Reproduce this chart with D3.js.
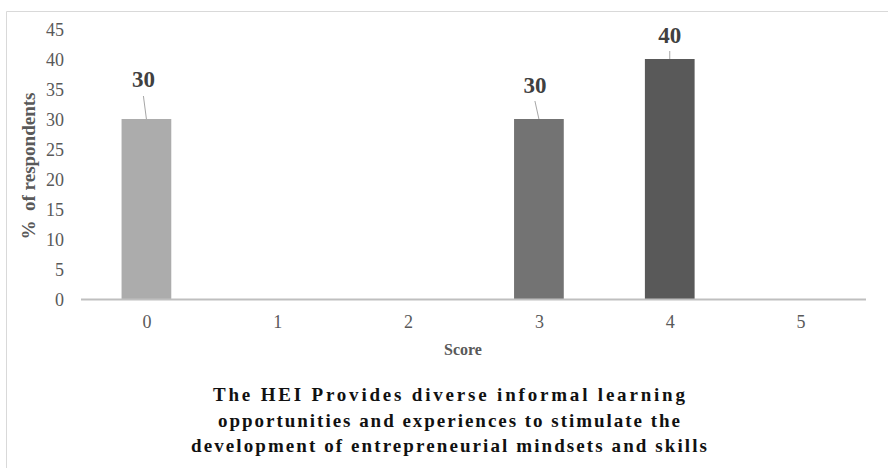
<!DOCTYPE html>
<html>
<head>
<meta charset="utf-8">
<script src="https://cdn.jsdelivr.net/npm/d3@7/dist/d3.min.js"></script>
<style>
  html, body { margin: 0; padding: 0; background: #fff; }
  svg { display: block; }
</style>
</head>
<body>
<svg id="chart" width="888" height="468"></svg>
<script>
// Share of respondents per score
const scores = ["0", "1", "2", "3", "4", "5"];
const percents = [30, 0, 0, 30, 40, 0];
const barColors = ["#acacac", "#acacac", "#acacac", "#737373", "#595959", "#595959"];
const yTicks = [0, 5, 10, 15, 20, 25, 30, 35, 40, 45];
const titleLines = [
  "The HEI Provides diverse informal learning",
  "opportunities and experiences to stimulate the",
  "development of entrepreneurial mindsets and skills"
];
const titleWidths = [472, 462, 516];

const SERIF = "'Liberation Serif', 'Times New Roman', serif";
const svg = d3.select("#chart");
const W = 888, H = 468;
const margin = { left: 81, right: 22 };

// chart frame (top and left edges only)
svg.append("path")
  .attr("d", `M6.5,${H} V11.5 H${W}`)
  .attr("fill", "none")
  .attr("stroke", "#d9d9d9")
  .attr("stroke-width", 1);

const x = d3.scaleBand()
  .domain(scores)
  .range([margin.left, W - margin.right])
  .paddingInner(0.62)
  .paddingOuter(0.31);

const y = d3.scaleLinear()
  .domain([0, 45])
  .range([299, 29]);

// y-axis tick labels
const yAxis = d3.axisLeft(y).tickValues(yTicks).tickSize(0).tickPadding(0);
const yg = svg.append("g").attr("transform", "translate(64,0)").call(yAxis);
yg.attr("font-family", null).attr("font-size", null);
yg.select(".domain").remove();
yg.selectAll("text")
  .attr("dy", "0.34em")
  .style("font-family", SERIF)
  .style("font-size", "18px")
  .attr("fill", "#595959");

// bars
svg.append("g").selectAll("rect")
  .data(scores.map((s, i) => ({ s, v: percents[i], c: barColors[i] })).filter(d => d.v > 0))
  .join("rect")
  .attr("x", d => x(d.s))
  .attr("width", x.bandwidth())
  .attr("y", d => y(d.v))
  .attr("height", d => y(0) - y(d.v))
  .attr("fill", d => d.c);

// category labels along the baseline
const xAxis = d3.axisBottom(d3.scalePoint().domain(scores).range([x("0") + x.bandwidth() / 2, x("5") + x.bandwidth() / 2]))
  .tickSize(0).tickPadding(16);
const xg = svg.append("g").attr("transform", `translate(0,${y(0)})`).call(xAxis);
xg.attr("font-family", null).attr("font-size", null);
xg.select(".domain").remove();
xg.selectAll("text")
  .style("font-family", SERIF)
  .style("font-size", "18px")
  .attr("fill", "#595959");
svg.append("line")
  .attr("x1", margin.left).attr("x2", W - margin.right)
  .attr("y1", y(0) + 0.5).attr("y2", y(0) + 0.5)
  .attr("stroke", "#bfbfbf").attr("stroke-width", 2);

// value labels with leader lines: [text x shift, text baseline offset, leader top offset]
const labelOffsets = { "0": [-3, -32, -23], "3": [-4, -26, -18], "4": [0, -16, -8] };
const labelled = scores.map((s, i) => ({ s, v: percents[i] })).filter(d => d.v > 0);
const lg = svg.append("g");
labelled.forEach(d => {
  const cx = x(d.s) + x.bandwidth() / 2;
  const top = y(d.v);
  const [dx, ty, ly] = labelOffsets[d.s];
  lg.append("line")
    .attr("x1", cx).attr("y1", top)
    .attr("x2", cx + dx).attr("y2", top + ly)
    .attr("stroke", "#a6a6a6").attr("stroke-width", 1);
  lg.append("text")
    .attr("x", cx + dx)
    .attr("y", top + ty)
    .attr("text-anchor", "middle")
    .style("font-family", SERIF)
    .style("font-weight", "bold")
    .style("font-size", "23px")
    .attr("fill", "#404040")
    .text(d.v);
});

// axis titles
svg.append("text")
  .attr("transform", "translate(35,166) rotate(-90)")
  .attr("text-anchor", "middle")
  .style("font-family", SERIF)
  .style("font-weight", "bold")
  .style("font-size", "19px")
  .style("white-space", "pre")
  .attr("fill", "#595959")
  .text("%  of respondents");

svg.append("text")
  .attr("x", 463)
  .attr("y", 355)
  .attr("text-anchor", "middle")
  .style("font-family", SERIF)
  .style("font-weight", "bold")
  .style("font-size", "16px")
  .attr("fill", "#595959")
  .text("Score");

// chart title
svg.append("g").selectAll("text")
  .data(titleLines)
  .join("text")
  .attr("x", 449)
  .attr("y", (d, i) => 401 + i * 25.5)
  .attr("text-anchor", "middle")
  .style("font-family", SERIF)
  .style("font-weight", "bold")
  .style("font-size", "19px")
  .attr("fill", "#111")
  .attr("textLength", (d, i) => titleWidths[i])
  .attr("lengthAdjust", "spacing")
  .text(d => d);
</script>
</body>
</html>
